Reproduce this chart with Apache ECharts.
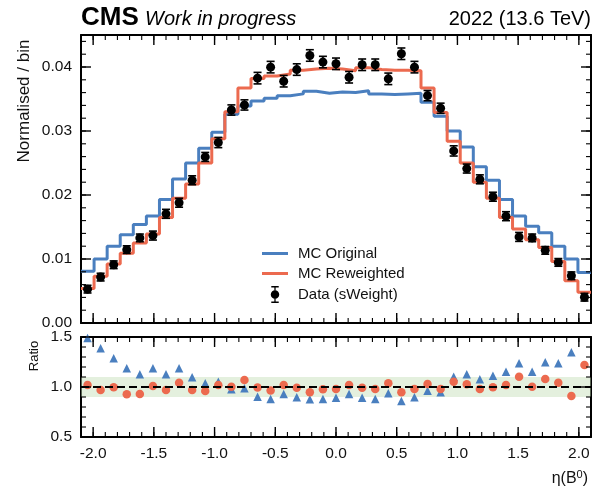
<!DOCTYPE html>
<html><head><meta charset="utf-8">
<script src="https://cdn.jsdelivr.net/npm/echarts@6/dist/echarts.min.js"></script>
<style>html,body{margin:0;padding:0;background:#fff}#c{width:598px;height:491px}</style>
</head><body><div id="c"></div>
<script>
const xMin = -2.1, xMax = 2.1, nBins = 39;
const yTopMin = 0, yTopMax = 0.045, rMin = 0.5, rMax = 1.5;
const dataVals = [0.00529,0.00717,0.0091,0.01146,0.0133,0.01366,0.01706,0.01879,0.0223,0.02595,
  0.0282,0.03328,0.03407,0.03826,0.03998,0.03778,0.0396,0.0418,0.04077,0.0405,
  0.0384,0.04035,0.04035,0.03815,0.04207,0.03998,0.03553,0.03355,0.02689,0.02413,
  0.02245,0.01973,0.01669,0.01345,0.0133,0.01135,0.00947,0.00738,0.00403];
const dataErr = [0.0006,0.0006,0.0006,0.0006,0.0006,0.0007,0.0007,0.0007,0.0007,0.0007,
  0.0008,0.0008,0.0008,0.0009,0.0009,0.0009,0.0009,0.0009,0.0009,0.0009,
  0.0009,0.0009,0.0009,0.0009,0.0009,0.0009,0.0008,0.0008,0.0008,0.0007,
  0.0007,0.0007,0.0007,0.0007,0.0006,0.0006,0.0006,0.0006,0.0006];
const mcOriginal = [0.0081,0.0100,0.0120,0.0138,0.0154,0.0167,0.0193,0.0225,0.0250,0.0273,
  0.0298,0.0326,0.0339,0.0347,0.0351,0.0355,0.0358,0.0362,0.0359,0.0361,
  0.0360,0.0363,0.0358,0.0357,0.0358,0.0359,0.0345,0.0323,0.0300,0.0275,
  0.0244,0.0223,0.0193,0.0167,0.0151,0.0141,0.0120,0.0100,0.0079];
const mcReweighted = [0.0054,0.0073,0.0092,0.0109,0.0125,0.0139,0.0165,0.0195,0.0217,0.0250,
  0.0288,0.0330,0.0367,0.0382,0.0386,0.0389,0.0395,0.0397,0.0398,0.0397,
  0.0394,0.0399,0.0396,0.0395,0.0395,0.0394,0.0367,0.0329,0.0284,0.0250,
  0.0220,0.0195,0.0165,0.0147,0.0130,0.0118,0.0096,0.0066,0.0048];
const ratioOriginal = [1.49,1.387,1.287,1.187,1.127,1.187,1.127,1.187,1.097,1.037,
  1.053,0.977,0.987,0.903,0.88,0.93,0.897,0.877,0.88,0.893,
  0.93,0.893,0.88,0.937,0.86,0.897,0.963,0.947,1.103,1.127,
  1.077,1.113,1.153,1.237,1.153,1.247,1.237,1.347,null];
const ratioReweighted = [1.02,0.97,0.997,0.927,0.93,1.01,0.97,1.043,0.97,0.96,
  1.02,1.003,1.07,0.995,0.965,1.02,0.993,0.947,0.977,0.98,
  1.02,0.993,0.98,1.037,0.947,0.98,1.03,0.98,1.053,1.027,
  0.98,0.997,1.02,1.103,1.003,1.08,1.043,0.91,1.22];

const xTicks = [-2.0,-1.5,-1.0,-0.5,0.0,0.5,1.0,1.5,2.0];
const yTicksTop = [0.00,0.01,0.02,0.03,0.04];
const yTicksRatio = [0.5,1.0,1.5];

const binW = (xMax - xMin) / nBins;
const edges = Array.from({length: nBins + 1}, (_, i) => xMin + i * binW);
const centers = dataVals.map((_, i) => xMin + (i + 0.5) * binW);
function stepData(vals){
  const d = vals.map((v, i) => [edges[i], v]);
  d.push([edges[nBins], vals[nBins - 1]]);
  return d;
}
const pts = (vals) => vals.map((v, i) => v == null ? null : [centers[i], v]).filter(p => p);
function steps(a, b, s){ const n = Math.round((b - a) / s), o = []; for (let i = 0; i <= n; i++) o.push(+(a + i * s).toFixed(6)); return o; }

const FONT = 'Liberation Sans, Arial, Helvetica, sans-serif';
const BLUE = '#4a7fbf', ORANGE = '#ec6a4f';
const TXT = '#111';

const frameLine = {show:true, onZero:false, lineStyle:{color:'#000', width:2}};
const lblStyle = {margin:9, fontSize:15.5, color:TXT, fontFamily:FONT};
function ax(g, min, max, pos, opts){
  return Object.assign({type:'value', gridIndex:g, min:min, max:max, position:pos,
    splitLine:{show:false}, axisLine:frameLine, axisLabel:{show:false},
    axisTick:{show:false}}, opts);
}
function xAxesFor(g, labels){
  const main = {};
  if (labels) main.axisLabel = Object.assign({show:true, customValues:xTicks, formatter:v=>v.toFixed(1)}, lblStyle);
  return [ax(g, xMin, xMax, 'bottom', main), ax(g, xMin, xMax, 'top', {})];
}
function yAxesFor(g, min, max, ticks, digits){
  return [
    ax(g, min, max, 'left', {axisLabel:Object.assign({show:true, customValues:ticks, formatter:v=>v.toFixed(digits)}, lblStyle)}),
    ax(g, min, max, 'right', {})
  ];
}

const errData = dataVals.map((v, i) => [centers[i], v, dataErr[i]]);
const dataIcon = 'path://M9,8A4,4 0 1,1 1,8A4,4 0 1,1 9,8Z M4.4,0L5.6,0L5.6,16L4.4,16Z M1.5,0L8.5,0L8.5,1.3L1.5,1.3Z M1.5,14.7L8.5,14.7L8.5,16L1.5,16Z';
const lineIcon = 'path://M0,0L26,0L26,3L0,3Z';

const textEls = [
  {type:'text', left:81, top:5, style:{text:'CMS', font:'bold 26px '+FONT, fill:'#000'}},
  {type:'text', left:145, top:9, style:{text:'Work in progress', font:'italic 20px '+FONT, fill:'#000'}},
  {type:'text', right:7, top:9, style:{text:'2022 (13.6 TeV)', font:'20px '+FONT, fill:'#000'}},
  {type:'text', x:24, y:101, rotation:Math.PI/2,
    style:{text:'Normalised / bin', font:'17px '+FONT, fill:TXT, align:'center', verticalAlign:'middle'}},
  {type:'text', x:34, y:356, rotation:Math.PI/2,
    style:{text:'Ratio', font:'13px '+FONT, fill:TXT, align:'center', verticalAlign:'middle'}},
  {type:'text', right:10, top:469,
    style:{text:'η(B{s|0})', font:'16px '+FONT, fill:TXT,
      rich:{s:{fontSize:11, verticalAlign:'top', padding:[0,0,8,0], fontFamily:FONT, fill:TXT}}}}
];

const option = {
  animation:false,
  backgroundColor:'#fff',
  grid:[
    {left:81, top:35, width:510, height:288},
    {left:81, top:337, width:510, height:100}
  ],
  xAxis:[].concat(xAxesFor(0,false), xAxesFor(1,true)),
  yAxis:[].concat(yAxesFor(0,yTopMin,yTopMax,yTicksTop,2), yAxesFor(1,rMin,rMax,yTicksRatio,1)),
  legend:{
    orient:'vertical', left:262, top:246, padding:0,
    itemWidth:26, itemHeight:17, itemGap:5,
    textStyle:{fontSize:15, color:TXT, fontFamily:FONT, padding:[0,0,0,5]},
    data:[
      {name:'MC Original', icon:lineIcon, itemStyle:{color:BLUE}},
      {name:'MC Reweighted', icon:lineIcon, itemStyle:{color:ORANGE}},
      {name:'Data (sWeight)', icon:dataIcon, itemStyle:{color:'#000'}}
    ]
  },
  graphic:textEls,
  series:[
    {name:'MC Original', type:'line', xAxisIndex:0, yAxisIndex:0, step:'end', symbol:'none',
      data:stepData(mcOriginal), lineStyle:{color:BLUE, width:3}, itemStyle:{color:BLUE}, z:2},
    {name:'MC Reweighted', type:'line', xAxisIndex:0, yAxisIndex:0, step:'end', symbol:'none',
      data:stepData(mcReweighted), lineStyle:{color:ORANGE, width:3}, itemStyle:{color:ORANGE}, z:3},
    {name:'Data (sWeight)', type:'custom', xAxisIndex:0, yAxisIndex:0, data:errData, z:4,
      encode:{x:0, y:1},
      renderItem:function(params, api){
        const x = api.value(0), y = api.value(1), e = api.value(2);
        const a = api.coord([x, y + e]), b = api.coord([x, y - e]);
        const cw = 4, st = {stroke:'#000', lineWidth:1.6};
        return {type:'group', children:[
          {type:'line', shape:{x1:a[0], y1:a[1], x2:b[0], y2:b[1]}, style:st},
          {type:'line', shape:{x1:a[0]-cw, y1:a[1], x2:a[0]+cw, y2:a[1]}, style:st},
          {type:'line', shape:{x1:b[0]-cw, y1:b[1], x2:b[0]+cw, y2:b[1]}, style:st}
        ]};
      }},
    {name:'Data (sWeight)', type:'scatter', xAxisIndex:0, yAxisIndex:0, data:pts(dataVals),
      symbol:'circle', symbolSize:9, itemStyle:{color:'#000', opacity:1}, z:5},
    {name:'ratio orig', type:'scatter', xAxisIndex:2, yAxisIndex:2, data:pts(ratioOriginal),
      symbol:'triangle', symbolSize:8.5, itemStyle:{color:BLUE, opacity:1}, z:3,
      markArea:{silent:true, itemStyle:{color:'rgba(196,222,182,0.45)'},
        data:[[{yAxis:0.9},{yAxis:1.1}]]},
      markLine:{silent:true, symbol:'none', label:{show:false},
        lineStyle:{color:'#000', width:2, type:[8,4]}, data:[{yAxis:1.0}]}},
    {name:'ratio rew', type:'scatter', xAxisIndex:2, yAxisIndex:2, data:pts(ratioReweighted),
      symbol:'circle', symbolSize:8.5, itemStyle:{color:ORANGE, opacity:1}, z:4}
  ]
};
const chart = echarts.init(document.getElementById('c'), null, {renderer:'canvas', width:598, height:491});
chart.setOption(option);

// Inside tick marks on all four sides, positioned through the axes' own scales.
try {
  const tickEls = [];
  function addTicks(xi, yi, yLo, yHi, yMaj, yMin){
    const f = {xAxisIndex:xi, yAxisIndex:yi};
    const xs = xTicks.map(v => [v, 10]).concat(steps(xMin, xMax, 0.1).map(v => [v, 5]));
    const ys = yMaj.map(v => [v, 10]).concat(yMin.map(v => [v, 5]));
    xs.forEach(([v, len]) => {
      const a = chart.convertToPixel(f, [v, yLo]), b = chart.convertToPixel(f, [v, yHi]);
      const st = {stroke:'#000', lineWidth: len > 6 ? 1.4 : 1.1};
      tickEls.push({type:'line', silent:true, z:50, shape:{x1:a[0], y1:a[1], x2:a[0], y2:a[1] - len}, style:st});
      tickEls.push({type:'line', silent:true, z:50, shape:{x1:b[0], y1:b[1], x2:b[0], y2:b[1] + len}, style:st});
    });
    ys.forEach(([v, len]) => {
      const a = chart.convertToPixel(f, [xMin, v]), b = chart.convertToPixel(f, [xMax, v]);
      const st = {stroke:'#000', lineWidth: len > 6 ? 1.4 : 1.1};
      tickEls.push({type:'line', silent:true, z:50, shape:{x1:a[0], y1:a[1], x2:a[0] + len, y2:a[1]}, style:st});
      tickEls.push({type:'line', silent:true, z:50, shape:{x1:b[0], y1:b[1], x2:b[0] - len, y2:b[1]}, style:st});
    });
  }
  addTicks(0, 0, yTopMin, yTopMax, yTicksTop, steps(0, 0.044, 0.002));
  addTicks(2, 2, rMin, rMax, yTicksRatio, steps(0.5, 1.5, 0.1));
  chart.setOption({graphic: textEls.concat(tickEls)});
} catch (e) { console.error(e); }
</script>
</body></html>
